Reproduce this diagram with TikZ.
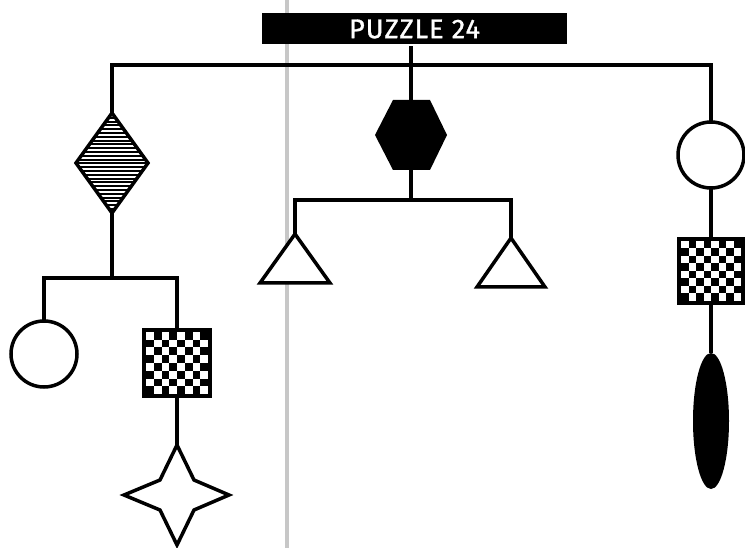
\documentclass[tikz,border=0pt]{standalone}
\usepackage{fontspec}
\newfontfamily\titlefont[LetterSpace=4,FakeBold=1.2]{Fira Sans}
\begin{document}
\begin{tikzpicture}[x=1pt,y=-1pt,line width=3.5pt,line join=miter,
  shapeline/.style={draw=black,line width=3.5pt},
  string/.style={draw=black,line width=3.5pt},
  hatch/.style={line width=2pt},
  ]
\useasboundingbox (0,0) rectangle (745,548);
% gray fold line
\fill[black!22] (285,0) rectangle (288.5,548);
% title
\node[fill=black,text=white,minimum width=305,minimum height=31,inner sep=0pt,
  font=\titlefont\fontsize{27}{27}\selectfont] (title) at (414.5,29) {PUZZLE 24};
% named anchor points
\coordinate (tl) at (112,65);
\coordinate (tm) at (411,65);
\coordinate (tr) at (711,65);
% ---- left branch ----
\coordinate (diaT) at (112,113);
\coordinate (diaB) at (112,213);
\coordinate (lbar) at (112,278);
\coordinate (lbL) at (44,278);
\coordinate (lbR) at (177,278);
\coordinate (lcT) at (44,321);
\coordinate (sqAT) at (177,328);
\coordinate (sqAB) at (177,398);
\coordinate (stT) at (177,445);
% ---- middle branch ----
\coordinate (hexT) at (411,100);
\coordinate (hexB) at (411,170);
\coordinate (mbar) at (411,200);
\coordinate (mbL) at (295,200);
\coordinate (mbR) at (511,200);
\coordinate (trALt) at (295,234);
\coordinate (trBRt) at (511,238);
% ---- right branch ----
\coordinate (rcT) at (711,122);
\coordinate (rcB) at (711,188);
\coordinate (sqBT) at (711,237);
\coordinate (sqBB) at (711,305);
\coordinate (elT) at (711,353);
% strings
\draw[string] (diaT) -- (tl) -- (tr) -- (rcT);
\draw[string] (title.south -| tm) -- (hexT);
\draw[string] (diaB) -- (lbar);
\draw[string] (lcT) -- (lbL) -- (lbR) -- (sqAT);
\draw[string] (sqAB) -- (stT);
\draw[string] (hexB) -- (mbar);
\draw[string] (trALt) -- (mbL) -- (mbR) -- (trBRt);
\draw[string] (rcB) -- (sqBT);
\draw[string] (sqBB) -- (elT);
% diamond (hatched)
\begin{scope}
  \clip (112,113) -- (148,163) -- (112,213) -- (76,163) -- cycle;
  \fill[white] (70,110) rectangle (150,215);
  \foreach \k in {0,...,26} {\draw[hatch] (70,{114+\k*3.8}) -- (150,{114+\k*3.8});}
\end{scope}
\draw[shapeline] (112,113) -- (148,163) -- (112,213) -- (76,163) -- cycle;
% left circle
\draw[shapeline,fill=white] (44,354) circle[radius=33];
% checker square A
\begin{scope}[shift={(142,328)}]
  \fill[black] (0,0) rectangle (70,70);
  \foreach \i in {0,...,7} \foreach \j in {0,...,7} {
    \pgfmathparse{int(mod(\i+\j,2))}
    \ifnum\pgfmathresult=0 \fill[white] ({4+\i*7.75},{4+\j*7.75}) rectangle ++(7.75,7.75);\fi
  }
\end{scope}
% star
\begin{scope}[shift={(177,495)}]
  \draw[shapeline,fill=white] (0,-50) -- (17,-15) -- (52,0) -- (17,15) -- (0,50) -- (-17,15) -- (-53,0) -- (-17,-15) -- cycle;
\end{scope}
% hexagon
\fill[black] (375,135) -- (393,100) -- (430,100) -- (447,135) -- (430,170) -- (393,170) -- cycle;
% triangles
\draw[shapeline,fill=white] (295,234) -- (330,283) -- (260,283) -- cycle;
\draw[shapeline,fill=white] (511,238) -- (545,287) -- (477,287) -- cycle;
% right circle
\draw[shapeline,fill=white] (711,155) circle[radius=33];
% checker square B
\begin{scope}[shift={(677,237)}]
  \fill[black] (0,0) rectangle (68,68);
  \foreach \i in {0,...,7} \foreach \j in {0,...,7} {
    \pgfmathparse{int(mod(\i+\j,2))}
    \ifnum\pgfmathresult=0 \fill[white] ({4+\i*7.5},{4+\j*7.5}) rectangle ++(7.5,7.5);\fi
  }
\end{scope}
% ellipse
\fill[black] (711,421) ellipse[x radius=18,y radius=68];
\end{tikzpicture}
\end{document}
